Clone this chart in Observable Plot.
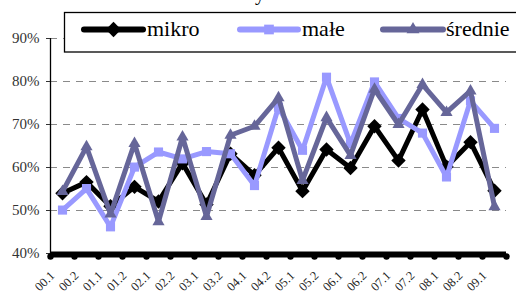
<!DOCTYPE html>
<html><head><meta charset="utf-8">
<script src="https://cdn.jsdelivr.net/npm/d3@7"></script>
<script src="https://cdn.jsdelivr.net/npm/@observablehq/plot@0.6"></script>
<style>
body{margin:0;background:#fff;}
#wrap{position:relative;width:516px;height:295px;overflow:hidden;font-family:"Liberation Serif","DejaVu Serif",serif;}
#wrap svg{position:absolute;left:0;top:0;}
#wrap svg text{font-family:"Liberation Serif","DejaVu Serif",serif;}
#title{position:absolute;left:255px;top:-18px;font-size:20px;color:#000;}
</style></head>
<body><div id="wrap"><div id="title">y</div></div>
<script>
const periods = ["00.1","00.2","01.1","01.2","02.1","02.2","03.1","03.2","04.1","04.2","05.1","05.2","06.1","06.2","07.1","07.2","08.1","08.2","09.1"];
const seriesNames = ["mikro","małe","średnie"];
const mikro   = [54.0,56.6,51.0,55.5,52.1,61.0,51.4,63.2,58.2,64.6,54.5,64.2,59.9,69.6,61.6,73.5,60.2,65.9,54.6];
const male    = [50.1,55.1,46.2,60.1,63.6,62.0,63.7,63.2,55.8,74.0,64.0,81.0,65.5,79.9,71.4,68.0,57.8,75.5,69.1];
const srednie = [54.4,64.8,49.2,65.6,47.4,67.1,48.6,67.5,69.6,76.2,57.0,71.6,62.8,78.2,70.0,79.3,72.8,77.8,50.9];
const yTicks = [40,50,60,70,80,90];
const colors = ["#000000","#9999ff","#666699"];
const symbols = ["diamond2","square2","triangle2"];
const FONT = '"Liberation Serif","DejaVu Serif",serif';

const valuesBySeries = [mikro, male, srednie];
const data = seriesNames.flatMap((s,k)=>valuesBySeries[k].map((v,i)=>({i, p:periods[i], s, v})));
const boundaries = d3.range(periods.length+1).map(i=>i-0.5);

const marks = [
  Plot.ruleY(yTicks.filter(t=>t>40), {stroke:"#8a8a8a", strokeWidth:1.2, strokeDasharray:"7,6"}),
  Plot.ruleX([-0.5], {y1:40, y2:90, stroke:"#000", strokeWidth:1.3}),
  Plot.axisY({ticks:yTicks, tickFormat:d=>d+"%", tickSize:4, tickPadding:7, fontSize:15, color:"#333", label:null}),
  Plot.ruleY([40], {stroke:"#000", strokeWidth:6, dy:1}),
  Plot.dot(boundaries, {x:d=>d, y:()=>40, r:3.2, fill:"#000", dy:3}),
  Plot.text(periods, {x:(d,i)=>i, y:()=>40, text:d=>d, rotate:-45, textAnchor:"end", dx:-10, dy:20, fontSize:12.5, fill:"#222"})
];
seriesNames.forEach((s,k)=>{
  const sd = data.filter(d=>d.s===s);
  marks.push(Plot.line(sd, {x:"i", y:"v", stroke:colors[k], strokeWidth:5, strokeLinejoin:"miter"}));
  marks.push(Plot.dot(sd, {x:"i", y:"v", symbol:()=>symbols[k], fill:colors[k], r:k===0?6.5:5.8, stroke:"none"}));
});

const chart = Plot.plot({
  width:516, height:295, marginLeft:50, marginRight:10, marginTop:38, marginBottom:42,
  x:{type:"linear", domain:[-0.5, periods.length-0.5], axis:null},
  y:{domain:[40,90], axis:null},
  style:{fontFamily:FONT, background:"#fff", overflow:"visible"},
  marks
});
const wrap = document.getElementById("wrap");
wrap.insertBefore(chart, wrap.firstChild);

const lg = d3.select(wrap).append("svg").attr("width",516).attr("height",60).style("overflow","visible");
lg.append("rect").attr("x",64.5).attr("y",12.5).attr("width",520).attr("height",39.5).attr("fill","#fff").attr("stroke","#000").attr("stroke-width",1.3);
const items = [{x1:84,x2:143,tx:147},{x1:240,x2:298,tx:302},{x1:383,x2:443,tx:446}];
const symGen = [d3.symbolDiamond2, d3.symbolSquare2, d3.symbolTriangle2];
seriesNames.forEach((s,k)=>{
  const it = items[k], cy = 29.5, cx=(it.x1+it.x2)/2;
  lg.append("line").attr("x1",it.x1).attr("x2",it.x2).attr("y1",cy).attr("y2",cy).attr("stroke",colors[k]).attr("stroke-width",6).attr("stroke-linecap","round");
  lg.append("path").attr("d", d3.symbol(symGen[k], k===0?150:120)()).attr("transform",`translate(${cx},${cy})`).attr("fill",colors[k]);
  lg.append("text").attr("x",it.tx).attr("y",35.5).attr("font-size",22).text(s);
});
</script></body></html>
